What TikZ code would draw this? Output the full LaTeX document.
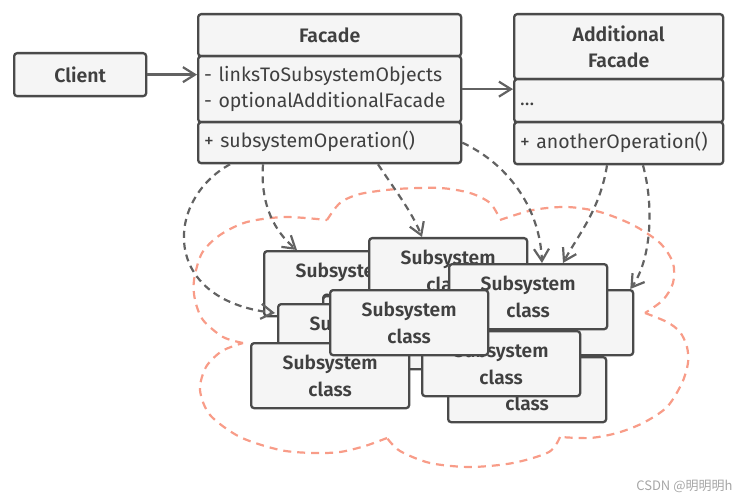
\documentclass[tikz,border=0pt]{standalone}
\usepackage{fontspec}
\setmainfont{Fira Sans}[BoldFont={Fira Sans SemiBold}]
\newfontfamily\cjk{Noto Sans CJK SC}
\usetikzlibrary{arrows.meta}
\definecolor{boxfill}{HTML}{F5F5F5}
\definecolor{boxline}{HTML}{4A4A4A}
\definecolor{txt}{HTML}{404040}
\definecolor{conn}{HTML}{626262}
\definecolor{cloudc}{HTML}{F89C88}
\begin{document}
\begin{tikzpicture}[x=1pt,y=-1pt,
  font=\fontsize{19.5}{26}\selectfont,
  box/.style={draw=boxline, fill=boxfill, line width=2.3pt, rounded corners=3pt, text=txt, inner sep=0pt, anchor=north west},
  sbox/.style={box, minimum width=158pt, minimum height=65pt, align=center, font=\bfseries\fontsize{19.2}{27}\selectfont},
  head/.style={box, align=center, font=\bfseries\fontsize{19.5}{26}\selectfont},
  comp/.style={box, inner xsep=6pt, align=left},
  tip/.style={-{Straight Barb[length=12pt,width=15pt,line width=2.2pt]}},
  assoc/.style={draw=conn, line width=2.3pt, tip},
  dep/.style={draw=conn, line width=2.2pt, dash pattern=on 7pt off 5pt, tip},
  cloudline/.style={draw=cloudc, line width=2.2pt, dash pattern=on 8pt off 6pt, line cap=butt}
]
\useasboundingbox (0,0) rectangle (737,500);

% cloud
\draw[cloudline] plot[smooth] coordinates {(327,220) (340,203) (360,194) (397,189) (440,188) (470,193) (490,203) (500,219)};
\draw[cloudline] plot[smooth] coordinates {(500,220) (533,210) (567,207) (600,212) (633,225) (660,243) (673,263) (673,283) (663,300) (645,313)};
\draw[cloudline] plot[smooth] coordinates {(645,313) (667,322) (680,332) (687,347) (688,363) (682,383) (667,407) (643,423) (617,433) (590,438) (560,437)};
\draw[cloudline] plot[smooth] coordinates {(560,437) (549,452) (513,463) (470,467) (430,463) (400,451) (387,438)};
\draw[cloudline] plot[smooth] coordinates {(387,438) (365,446) (340,452) (313,453) (280,450) (240,437) (210,415) (200,390) (206,367) (222,351) (243,343)};
\draw[cloudline] plot[smooth] coordinates {(243,343) (223,337) (203,320) (195,300) (194,280) (202,253) (220,235) (247,222) (285,217) (327,220)};

% classes
\node[box, minimum width=132pt, minimum height=43pt, font=\bfseries\fontsize{19.5}{26}\selectfont] (client) at (13,52) {Client};

\node[head, minimum width=263pt, minimum height=42pt] (facadeHead) at (197,13) {Facade};
\node[comp, text width=251pt, minimum height=66pt] (facadeAttr) at (197,55) {\strut- linksToSubsystemObjects\\\strut- optionalAdditionalFacade};
\node[comp, text width=251pt, minimum height=41pt] (facadeOps) at (197,121) {\strut+ subsystemOperation()};

\node[head, minimum width=209pt, minimum height=65pt] (addHead) at (513,13) {Additional\\Facade};
\node[comp, text width=197pt, minimum height=43pt] (addAttr) at (513,78) {\strut...};
\node[comp, text width=197pt, minimum height=42pt] (addOps) at (513,121) {\strut+ anotherOperation()};

% associations
\draw[assoc] (client.east) -- (client.east -| facadeAttr.west);
\draw[assoc] (facadeAttr.east) -- (facadeAttr.east -| addAttr.west);

% subsystem boxes (back to front)
\node[sbox] (A) at (263,250) {Subsystem\\class};
\node[sbox] (E) at (368,237) {Subsystem\\class};
\node[sbox] (H) at (474,289) {Subsystem\\class};
\node[sbox] (J) at (447,356) {Subsystem\\class};
\node[sbox] (F) at (448,263) {Subsystem\\class};
\node[sbox] (K) at (322,295) {Subsystem\\class};
\node[sbox] (B) at (277,303) {Subsystem\\class};
\node[sbox] (I) at (421,330) {Subsystem\\class};
\node[sbox] (C) at (250,342) {Subsystem\\class};
\node[sbox] (D) at (329,289) {Subsystem\\class};

% dependencies
\draw[dep] ([xshift=33pt]facadeOps.south west) .. controls (165,200) and (160,300) .. ([xshift=-2pt,yshift=-10pt]B.north west);
\draw[dep] ([xshift=66pt]facadeOps.south west) .. controls (260,205) and (275,232) .. ([xshift=34pt]A.north west);
\draw[dep] ([xshift=181pt]facadeOps.south west) .. controls (395,190) and (412,212) .. ([xshift=54pt]E.north west);
\draw[dep] (facadeOps.east) .. controls (510,165) and (540,210) .. ([xshift=94pt]F.north west);
\draw[dep] ([xshift=94pt]addOps.south west) .. controls (600,210) and (578,235) .. ([xshift=115pt]F.north west);
\draw[dep] ([xshift=130pt]addOps.south west) .. controls (655,210) and (650,262) .. ([xshift=-4pt]H.north east);

% watermark
\node[text=black!35, font=\cjk\fontsize{13}{15}\selectfont, anchor=east] (wm) at (736,486) {CSDN @明明明h};
\end{tikzpicture}
\end{document}
